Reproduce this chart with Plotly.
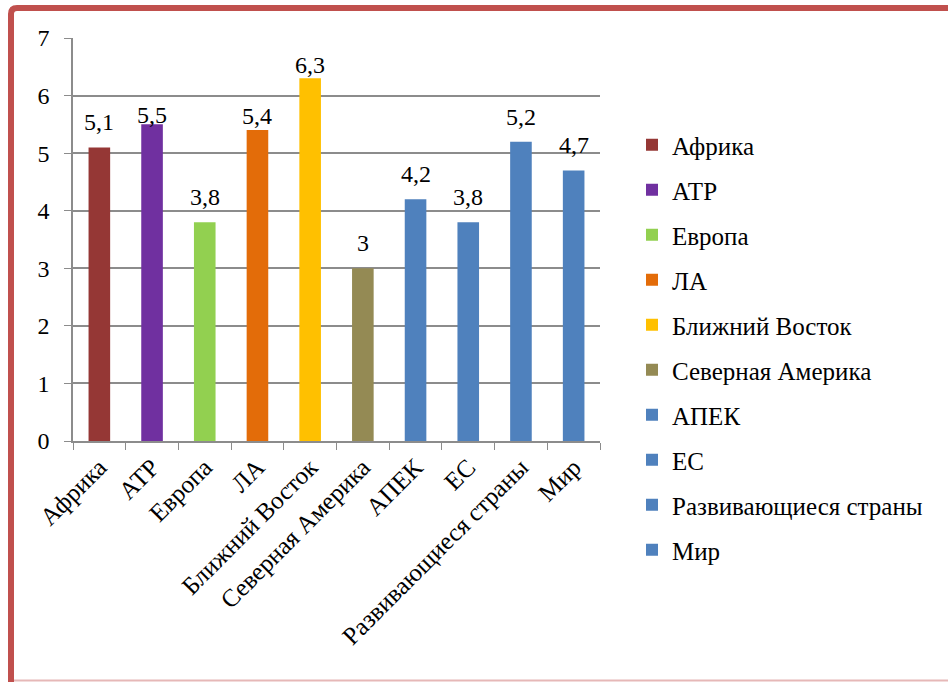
import plotly.graph_objects as go

categories = ["Африка", "АТР", "Европа", "ЛА", "Ближний Восток", "Северная Америка",
              "АПЕК", "ЕС", "Развивающиеся страны", "Мир"]
values = [5.1, 5.5, 3.8, 5.4, 6.3, 3.0, 4.2, 3.8, 5.2, 4.7]
labels = ["5,1", "5,5", "3,8", "5,4", "6,3", "3", "4,2", "3,8", "5,2", "4,7"]
colors = ["#953735", "#7030A0", "#92D050", "#E36C09", "#FFC000", "#948A54",
          "#4F81BD", "#4F81BD", "#4F81BD", "#4F81BD"]
# vertical shift of each value label above its bar (px) – style only
label_shift = [10, -6, 10, -1, -2, 10, 10, 10, 10, 10]

W, H = 948, 682
L, R, T, B = 73, 348, 38, 241
PW, PH = W - L - R, H - T - B

def px(x):
    return (x - L) / PW

def py(y):
    return (H - B - y) / PH

FONT = "Times New Roman"

fig = go.Figure()
for i, (c, v, col) in enumerate(zip(categories, values, colors)):
    fig.add_trace(go.Bar(
        x=[c], y=[v], name=c,
        marker=dict(color=col, line=dict(width=0)),
        width=0.41, legendgroup=f"g{i}", hoverinfo="x+y",
    ))

annotations = [
    dict(x=c, y=v, xref="x", yref="y", text=t, showarrow=False,
         yanchor="bottom", yshift=s, font=dict(family=FONT, size=24, color="black"))
    for c, v, t, s in zip(categories, values, labels, label_shift)
]

fig.update_layout(
    width=W, height=H,
    margin=dict(l=L, r=R, t=T, b=B, autoexpand=False),
    paper_bgcolor="white", plot_bgcolor="rgba(0,0,0,0)",
    barmode="overlay",
    font=dict(family=FONT, size=24, color="black"),
    showlegend=True,
    annotations=annotations,
    legend=dict(x=px(632), y=py(122), xanchor="left", yanchor="top",
                font=dict(family=FONT, size=25, color="black"),
                tracegroupgap=9.5, bgcolor="rgba(0,0,0,0)", maxheight=640),
    xaxis=dict(categoryorder="array", categoryarray=categories,
               tickangle=-45, ticks="outside", ticklen=7, tickcolor="#8C8C8C",
               tickson="boundaries", showline=True, linecolor="#8C8C8C", linewidth=1.5,
               showgrid=False, tickfont=dict(family=FONT, size=25, color="black")),
    yaxis=dict(range=[0, 7], dtick=1, ticks="outside", ticklen=7, tickcolor="#8C8C8C",
               showline=True, linecolor="#8C8C8C", linewidth=1.5,
               showgrid=True, gridcolor="#8C8C8C", gridwidth=1.5, zeroline=False,
               ticklabelstandoff=10,
               tickfont=dict(family=FONT, size=24, color="black")),
    shapes=[
        dict(type="path", xref="paper", yref="paper",
             path=f"M {px(11)} {py(682)} L {px(11)} {py(14)} Q {px(11)} {py(8)} {px(17)} {py(8)} L {px(948)} {py(8)}",
             line=dict(color="#C0504D", width=6), layer="above"),
        dict(type="line", xref="paper", yref="paper",
             x0=px(14), x1=px(948), y0=py(680.5), y1=py(680.5),
             line=dict(color="#E6B8B7", width=2)),
    ],
)

fig.write_html("out.html", config={"displayModeBar": False},
               post_script="document.body.style.margin='0';document.body.style.overflow='hidden';")
